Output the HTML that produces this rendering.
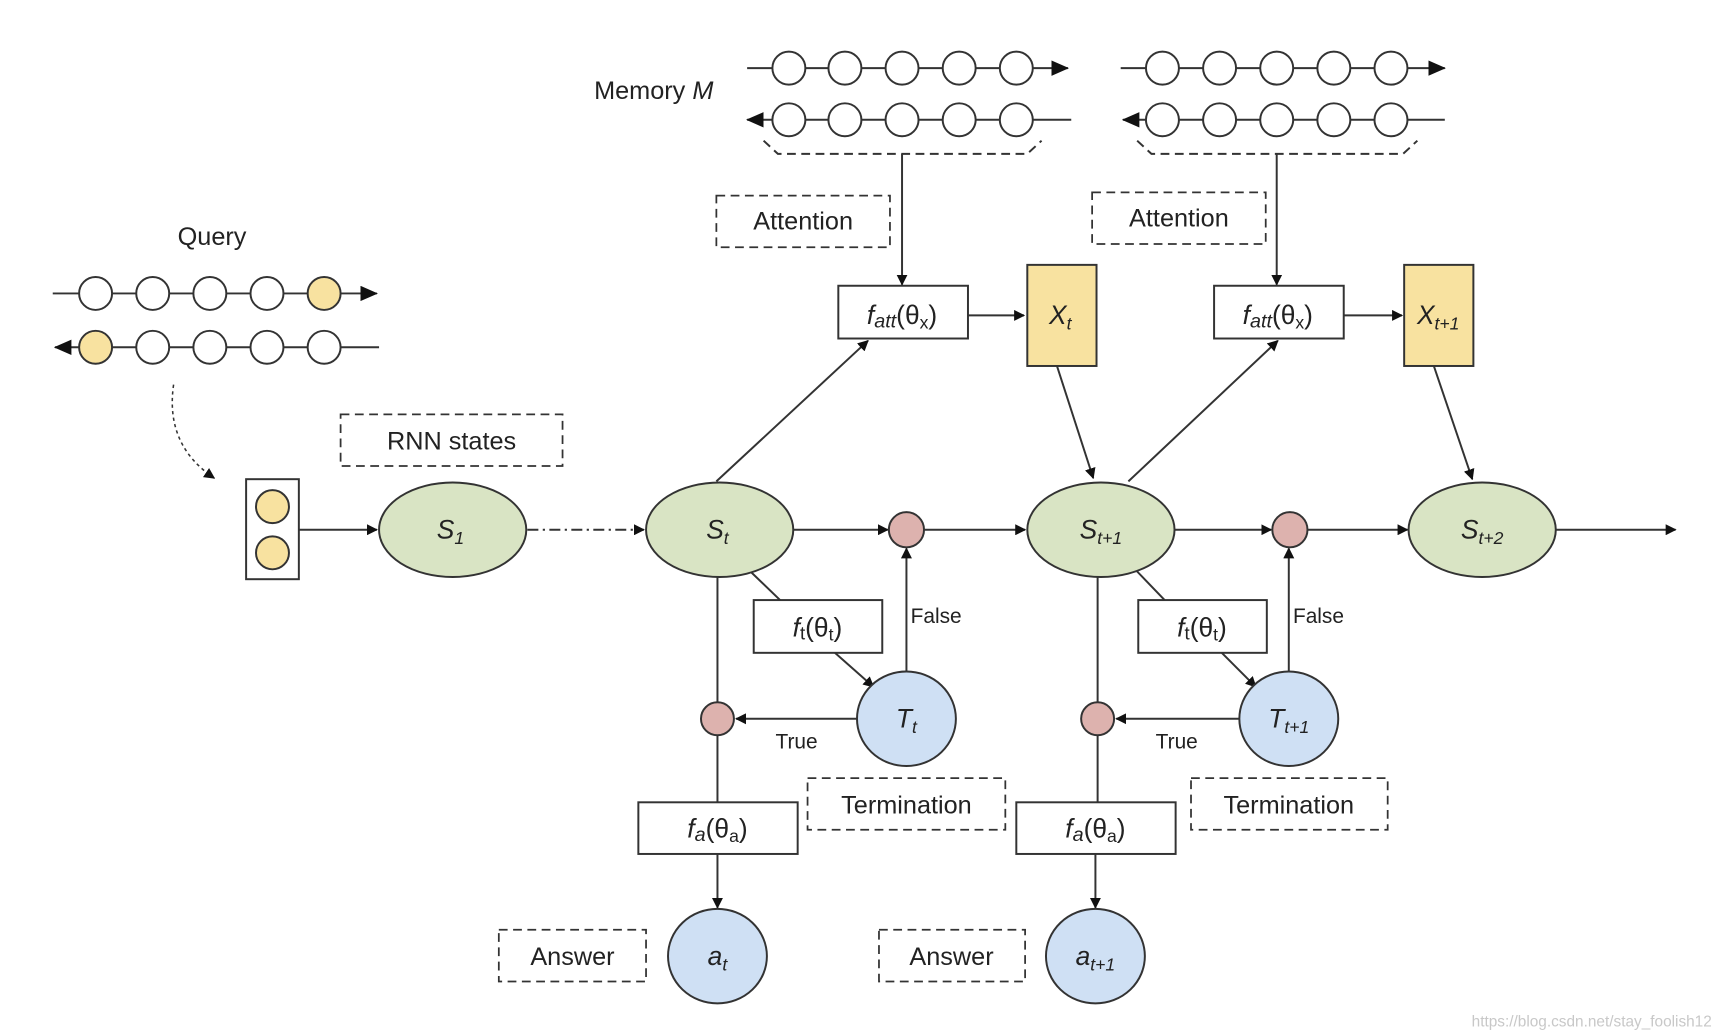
<!DOCTYPE html>
<html><head><meta charset="utf-8"><style>
html,body{margin:0;padding:0;background:#fff;}
svg{display:block;}
text{font-family:"Liberation Sans",sans-serif;fill:#222;}
</style></head><body>
<svg width="1714" height="1032" viewBox="0 0 1560 939" preserveAspectRatio="none" xmlns="http://www.w3.org/2000/svg">
<defs>
<marker id="a" markerWidth="10" markerHeight="10" refX="9" refY="5" orient="auto" markerUnits="userSpaceOnUse" viewBox="0 0 10 10">
<path d="M0,0 L10,5 L0,10 z" fill="#111"/></marker>
<marker id="b" markerWidth="16" markerHeight="14" refX="15" refY="7" orient="auto" markerUnits="userSpaceOnUse" viewBox="0 0 16 14">
<path d="M0,0 L16,7 L0,14 z" fill="#111"/></marker>
</defs>
<g stroke="#333" stroke-width="1.8" fill="none">
<!-- memory chains -->
<line x1="680" y1="62" x2="972" y2="62" marker-end="url(#b)"/>
<line x1="975" y1="109" x2="680" y2="109" marker-end="url(#b)"/>
<line x1="1020" y1="62" x2="1315" y2="62" marker-end="url(#b)"/>
<line x1="1315" y1="109" x2="1022" y2="109" marker-end="url(#b)"/>
<path d="M695,128 L708,140 L935,140 L948,128" stroke-dasharray="8,5"/>
<path d="M1035,128 L1048,140 L1277,140 L1290,128" stroke-dasharray="8,5"/>
<line x1="821" y1="140" x2="821" y2="259" marker-end="url(#a)"/>
<line x1="1162" y1="140" x2="1162" y2="259" marker-end="url(#a)"/>
<!-- query chains -->
<line x1="48" y1="267" x2="343" y2="267" marker-end="url(#b)"/>
<line x1="345" y1="316" x2="50" y2="316" marker-end="url(#b)"/>
<path d="M158,350 Q150,405 195,435" stroke-dasharray="3,3" stroke-width="1.4" marker-end="url(#a)"/>
<!-- main horizontal -->
<line x1="272" y1="482" x2="343" y2="482" marker-end="url(#a)"/>
<line x1="480" y1="482" x2="586" y2="482" stroke-dasharray="10,4,2,4" marker-end="url(#a)"/>
<line x1="722" y1="482" x2="808" y2="482" marker-end="url(#a)"/>
<line x1="841" y1="482" x2="933" y2="482" marker-end="url(#a)"/>
<line x1="1069" y1="482" x2="1157" y2="482" marker-end="url(#a)"/>
<line x1="1190" y1="482" x2="1281" y2="482" marker-end="url(#a)"/>
<line x1="1416" y1="482" x2="1525" y2="482" marker-end="url(#a)"/>
<!-- attention links -->
<line x1="652" y1="438" x2="790" y2="310" marker-end="url(#a)"/>
<line x1="881" y1="287" x2="932" y2="287" marker-end="url(#a)"/>
<line x1="962" y1="333" x2="995" y2="435" marker-end="url(#a)"/>
<line x1="1027" y1="438" x2="1163" y2="310" marker-end="url(#a)"/>
<line x1="1223" y1="287" x2="1276" y2="287" marker-end="url(#a)"/>
<line x1="1305" y1="333" x2="1340" y2="436" marker-end="url(#a)"/>
<!-- termination 1 -->
<line x1="683" y1="520" x2="710" y2="546"/>
<line x1="760" y1="594" x2="795" y2="625" marker-end="url(#a)"/>
<line x1="825" y1="611" x2="825" y2="499" marker-end="url(#a)"/>
<line x1="780" y1="654" x2="670" y2="654" marker-end="url(#a)"/>
<line x1="653" y1="525" x2="653" y2="639"/>
<line x1="653" y1="669" x2="653" y2="730"/>
<line x1="653" y1="777" x2="653" y2="826" marker-end="url(#a)"/>
<!-- termination 2 -->
<line x1="1035" y1="520" x2="1060" y2="546"/>
<line x1="1112" y1="594" x2="1143" y2="625" marker-end="url(#a)"/>
<line x1="1173" y1="611" x2="1173" y2="499" marker-end="url(#a)"/>
<line x1="1128" y1="654" x2="1016" y2="654" marker-end="url(#a)"/>
<line x1="999" y1="525" x2="999" y2="639"/>
<line x1="999" y1="669" x2="999" y2="730"/>
<line x1="997" y1="777" x2="997" y2="826" marker-end="url(#a)"/>
</g>
<g stroke="#333" stroke-width="1.8" fill="#fff">
<circle cx="718" cy="62" r="15"/><circle cx="769" cy="62" r="15"/><circle cx="821" cy="62" r="15"/><circle cx="873" cy="62" r="15"/><circle cx="925" cy="62" r="15"/>
<circle cx="718" cy="109" r="15"/><circle cx="769" cy="109" r="15"/><circle cx="821" cy="109" r="15"/><circle cx="873" cy="109" r="15"/><circle cx="925" cy="109" r="15"/>
<circle cx="1058" cy="62" r="15"/><circle cx="1110" cy="62" r="15"/><circle cx="1162" cy="62" r="15"/><circle cx="1214" cy="62" r="15"/><circle cx="1266" cy="62" r="15"/>
<circle cx="1058" cy="109" r="15"/><circle cx="1110" cy="109" r="15"/><circle cx="1162" cy="109" r="15"/><circle cx="1214" cy="109" r="15"/><circle cx="1266" cy="109" r="15"/>
<circle cx="87" cy="267" r="15"/><circle cx="139" cy="267" r="15"/><circle cx="191" cy="267" r="15"/><circle cx="243" cy="267" r="15"/><circle cx="295" cy="267" r="15" fill="#f8e2a0"/>
<circle cx="87" cy="316" r="15" fill="#f8e2a0"/><circle cx="139" cy="316" r="15"/><circle cx="191" cy="316" r="15"/><circle cx="243" cy="316" r="15"/><circle cx="295" cy="316" r="15"/>
<rect x="224" y="436" width="48" height="91"/>
<circle cx="248" cy="461" r="15" fill="#f8e2a0"/><circle cx="248" cy="503" r="15" fill="#f8e2a0"/>
<ellipse cx="412" cy="482" rx="67" ry="43" fill="#d9e4c4"/>
<ellipse cx="655" cy="482" rx="67" ry="43" fill="#d9e4c4"/>
<ellipse cx="1002" cy="482" rx="67" ry="43" fill="#d9e4c4"/>
<ellipse cx="1349" cy="482" rx="67" ry="43" fill="#d9e4c4"/>
<circle cx="825" cy="482" r="16" fill="#ddb2ae"/>
<circle cx="1174" cy="482" r="16" fill="#ddb2ae"/>
<circle cx="653" cy="654" r="15" fill="#ddb2ae"/>
<circle cx="999" cy="654" r="15" fill="#ddb2ae"/>
<ellipse cx="825" cy="654" rx="45" ry="43" fill="#cfe0f4"/>
<ellipse cx="1173" cy="654" rx="45" ry="43" fill="#cfe0f4"/>
<ellipse cx="653" cy="870" rx="45" ry="43" fill="#cfe0f4"/>
<ellipse cx="997" cy="870" rx="45" ry="43" fill="#cfe0f4"/>
<rect x="763" y="260" width="118" height="48"/>
<rect x="1105" y="260" width="118" height="48"/>
<rect x="935" y="241" width="63" height="92" fill="#f8e2a0"/>
<rect x="1278" y="241" width="63" height="92" fill="#f8e2a0"/>
<rect x="686" y="546" width="117" height="48"/>
<rect x="1036" y="546" width="117" height="48"/>
<rect x="581" y="730" width="145" height="47"/>
<rect x="925" y="730" width="145" height="47"/>
</g>
<g stroke="#333" stroke-width="1.6" fill="none" stroke-dasharray="8,5">
<rect x="652" y="178" width="158" height="47"/>
<rect x="994" y="175" width="158" height="47"/>
<rect x="310" y="377" width="202" height="47"/>
<rect x="735" y="708" width="180" height="47"/>
<rect x="1084" y="708" width="179" height="47"/>
<rect x="454" y="846" width="134" height="47"/>
<rect x="800" y="846" width="133" height="47"/>
</g>
<g font-size="23" text-anchor="middle">
<text x="595" y="90">Memory <tspan font-style="italic">M</tspan></text>
<text x="193" y="223">Query</text>
<text x="731" y="209">Attention</text>
<text x="1073" y="206">Attention</text>
<text x="411" y="409">RNN states</text>
<text x="825" y="740">Termination</text>
<text x="1173" y="740">Termination</text>
<text x="521" y="878">Answer</text>
<text x="866" y="878">Answer</text>
</g>
<g font-size="19" text-anchor="middle">
<text x="852" y="567">False</text>
<text x="1200" y="567">False</text>
<text x="725" y="681">True</text>
<text x="1071" y="681">True</text>
</g>
<g font-size="24" text-anchor="middle" font-style="italic">
<text x="410" y="490">S<tspan font-size="16" dy="5">1</tspan></text>
<text x="653" y="490">S<tspan font-size="16" dy="5">t</tspan></text>
<text x="1002" y="490">S<tspan font-size="16" dy="5">t+1</tspan></text>
<text x="1349" y="490">S<tspan font-size="16" dy="5">t+2</tspan></text>
<text x="965" y="295">X<tspan font-size="16" dy="5">t</tspan></text>
<text x="1309" y="295">X<tspan font-size="16" dy="5">t+1</tspan></text>
<text x="825" y="662">T<tspan font-size="16" dy="5">t</tspan></text>
<text x="1173" y="662">T<tspan font-size="16" dy="5">t+1</tspan></text>
<text x="653" y="878">a<tspan font-size="16" dy="5">t</tspan></text>
<text x="997" y="878">a<tspan font-size="16" dy="5">t+1</tspan></text>
<text x="821" y="295">f<tspan font-size="18" dy="3">att</tspan><tspan font-style="normal" dy="-3">(θ</tspan><tspan font-style="normal" font-size="16" dy="4">x</tspan><tspan font-style="normal" dy="-4">)</tspan></text>
<text x="1163" y="295">f<tspan font-size="18" dy="3">att</tspan><tspan font-style="normal" dy="-3">(θ</tspan><tspan font-style="normal" font-size="16" dy="4">x</tspan><tspan font-style="normal" dy="-4">)</tspan></text>
<text x="744" y="579">f<tspan font-style="normal" font-size="17" dy="3">t</tspan><tspan font-style="normal" dy="-3">(θ</tspan><tspan font-style="normal" font-size="16" dy="4">t</tspan><tspan font-style="normal" dy="-4">)</tspan></text>
<text x="1094" y="579">f<tspan font-style="normal" font-size="17" dy="3">t</tspan><tspan font-style="normal" dy="-3">(θ</tspan><tspan font-style="normal" font-size="16" dy="4">t</tspan><tspan font-style="normal" dy="-4">)</tspan></text>
<text x="653" y="762">f<tspan font-size="18" dy="3">a</tspan><tspan font-style="normal" dy="-3">(θ</tspan><tspan font-style="normal" font-size="16" dy="4">a</tspan><tspan font-style="normal" dy="-4">)</tspan></text>
<text x="997" y="762">f<tspan font-size="18" dy="3">a</tspan><tspan font-style="normal" dy="-3">(θ</tspan><tspan font-style="normal" font-size="16" dy="4">a</tspan><tspan font-style="normal" dy="-4">)</tspan></text>
</g>
<text x="1558" y="934" font-size="14" text-anchor="end" style="fill:#c8c8c8">https://blog.csdn.net/stay_foolish12</text>
</svg>
</body></html>
